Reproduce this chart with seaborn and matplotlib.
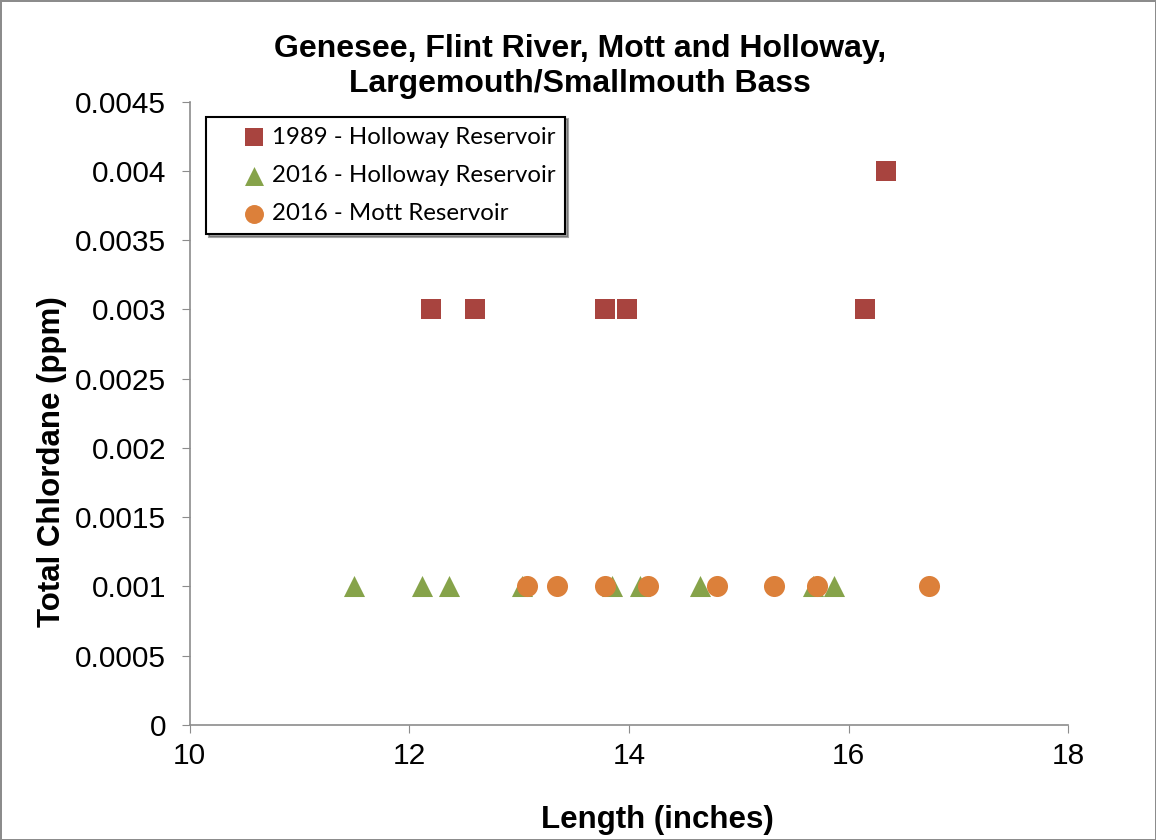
import pandas as pd
import numpy as np
import matplotlib.pyplot as plt
import seaborn as sns

# Data
len_1989_holloway = [12.2, 12.6, 13.78, 13.98, 16.15, 16.34]
chl_1989_holloway = [0.003, 0.003, 0.003, 0.003, 0.003, 0.004]

len_2016_holloway = [11.5, 12.12, 12.36, 13.03, 13.85, 14.1, 14.65, 15.68, 15.87]
chl_2016_holloway = [0.001] * 9

len_2016_mott = [13.07, 13.35, 13.78, 14.17, 14.8, 15.32, 15.71, 16.73]
chl_2016_mott = [0.001] * 8

series_labels = ["1989 - Holloway Reservoir", "2016 - Holloway Reservoir", "2016 - Mott Reservoir"]
x_ticks = [10, 12, 14, 16, 18]
y_ticks = [0, 0.0005, 0.001, 0.0015, 0.002, 0.0025, 0.003, 0.0035, 0.004, 0.0045]
y_tick_labels = ["0", "0.0005", "0.001", "0.0015", "0.002", "0.0025", "0.003", "0.0035", "0.004", "0.0045"]

sns.set_style("white")
plt.rcParams['font.family'] = ['Liberation Sans', 'DejaVu Sans']
plt.rcParams['text.color'] = 'black'
plt.rcParams['axes.labelcolor'] = 'black'
plt.rcParams['xtick.labelcolor'] = 'black'
plt.rcParams['ytick.labelcolor'] = 'black'

fig = plt.figure(figsize=(11.56, 8.4), dpi=100, facecolor='white', edgecolor='#8c8c8c', linewidth=2)
ax = fig.add_axes([0.164, 0.137, 0.76, 0.742])

sns.scatterplot(x=len_1989_holloway, y=chl_1989_holloway, ax=ax, marker='s', s=200,
                color='#A8443F', linewidth=0, label=series_labels[0], zorder=3)
sns.scatterplot(x=len_2016_holloway, y=chl_2016_holloway, ax=ax, marker='^', s=230,
                color='#86A34A', linewidth=0, label=series_labels[1], zorder=3)
sns.scatterplot(x=len_2016_mott, y=chl_2016_mott, ax=ax, marker='o', s=230,
                color='#DC803A', linewidth=0, label=series_labels[2], zorder=4)

ax.set_xlim(10, 18)
ax.set_ylim(0, 0.0045)
ax.set_xticks(x_ticks)
ax.set_xticklabels([str(t) for t in x_ticks])
ax.set_yticks(y_ticks)
ax.set_yticklabels(y_tick_labels)
ax.tick_params(axis='both', labelsize=21.5, length=6, color='#8c8c8c', direction='out',
               bottom=True, left=True, labelcolor='black')
ax.tick_params(axis='x', pad=6)
ax.tick_params(axis='y', pad=11)

for side in ['top', 'right']:
    ax.spines[side].set_visible(False)
for side in ['left', 'bottom']:
    ax.spines[side].set_color('#8c8c8c')
    ax.spines[side].set_linewidth(1.2)

ax.set_xlabel("Length (inches)", fontsize=22.5, fontweight='bold', va='center', color='black')
ax.xaxis.set_label_coords(0.532, -0.152)
ax.set_ylabel("Total Chlordane (ppm)", fontsize=22.5, fontweight='bold', va='center', color='black')
ax.yaxis.set_label_coords(-0.157, 0.422)
ax.set_title("Genesee, Flint River, Mott and Holloway,\nLargemouth/Smallmouth Bass",
             fontsize=23, fontweight='bold', pad=7, linespacing=1.2, color='black',
             x=0.444)

leg = ax.legend(loc='upper left', bbox_to_anchor=(0.019, 0.976), borderaxespad=0,
                frameon=True, shadow=True, fancybox=False,
                prop={'family': 'Lato', 'size': 17.3},
                handletextpad=-0.85, handlelength=3.15, borderpad=0.42, labelspacing=0.72,
                markerscale=0.9)
leg.get_frame().set_edgecolor('black')
leg.get_frame().set_linewidth(1.5)
for txt in leg.get_texts():
    txt.set_color('black')

fig.savefig("out.png", dpi=100, facecolor=fig.get_facecolor(), edgecolor=fig.get_edgecolor())
